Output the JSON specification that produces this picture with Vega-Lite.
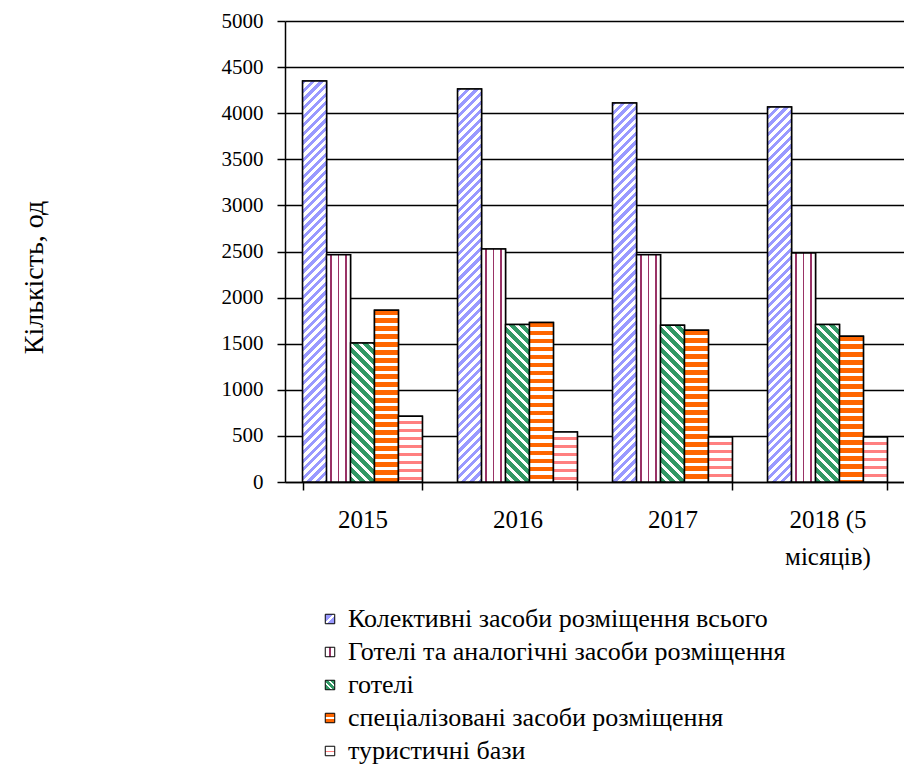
{
  "$schema": "https://vega.github.io/schema/vega-lite/v6.json",
  "autosize": {"type": "none"},
  "padding": {"left": 285, "top": 21, "right": 0, "bottom": 294},
  "width": 620,
  "height": 461,
  "background": "white",
  "config": {
    "font": "Liberation Serif",
    "view": {"stroke": null},
    "axis": {"labelFont": "Liberation Serif", "titleFont": "Liberation Serif"},
    "legend": {"labelFont": "Liberation Serif"}
  },
  "params": [
    {"name": "blueStops", "value": [
      {"offset":0,"color":"#99f"},
      {"offset":0.01,"color":"#99f"},{"offset":0.01,"color":"#fff"},{"offset":0.02,"color":"#fff"},{"offset":0.02,"color":"#99f"},
      {"offset":0.03,"color":"#99f"},{"offset":0.03,"color":"#fff"},{"offset":0.04,"color":"#fff"},{"offset":0.04,"color":"#99f"},
      {"offset":0.05,"color":"#99f"},{"offset":0.05,"color":"#fff"},{"offset":0.06,"color":"#fff"},{"offset":0.06,"color":"#99f"},
      {"offset":0.07,"color":"#99f"},{"offset":0.07,"color":"#fff"},{"offset":0.08,"color":"#fff"},{"offset":0.08,"color":"#99f"},
      {"offset":0.09,"color":"#99f"},{"offset":0.09,"color":"#fff"},{"offset":0.10,"color":"#fff"},{"offset":0.10,"color":"#99f"},
      {"offset":0.11,"color":"#99f"},{"offset":0.11,"color":"#fff"},{"offset":0.12,"color":"#fff"},{"offset":0.12,"color":"#99f"},
      {"offset":0.13,"color":"#99f"},{"offset":0.13,"color":"#fff"},{"offset":0.14,"color":"#fff"},{"offset":0.14,"color":"#99f"},
      {"offset":0.15,"color":"#99f"},{"offset":0.15,"color":"#fff"},{"offset":0.16,"color":"#fff"},{"offset":0.16,"color":"#99f"},
      {"offset":0.17,"color":"#99f"},{"offset":0.17,"color":"#fff"},{"offset":0.18,"color":"#fff"},{"offset":0.18,"color":"#99f"},
      {"offset":0.19,"color":"#99f"},{"offset":0.19,"color":"#fff"},{"offset":0.20,"color":"#fff"},{"offset":0.20,"color":"#99f"},
      {"offset":0.21,"color":"#99f"},{"offset":0.21,"color":"#fff"},{"offset":0.22,"color":"#fff"},{"offset":0.22,"color":"#99f"},
      {"offset":0.23,"color":"#99f"},{"offset":0.23,"color":"#fff"},{"offset":0.24,"color":"#fff"},{"offset":0.24,"color":"#99f"},
      {"offset":0.25,"color":"#99f"},{"offset":0.25,"color":"#fff"},{"offset":0.26,"color":"#fff"},{"offset":0.26,"color":"#99f"},
      {"offset":0.27,"color":"#99f"},{"offset":0.27,"color":"#fff"},{"offset":0.28,"color":"#fff"},{"offset":0.28,"color":"#99f"},
      {"offset":0.29,"color":"#99f"},{"offset":0.29,"color":"#fff"},{"offset":0.30,"color":"#fff"},{"offset":0.30,"color":"#99f"},
      {"offset":0.31,"color":"#99f"},{"offset":0.31,"color":"#fff"},{"offset":0.32,"color":"#fff"},{"offset":0.32,"color":"#99f"},
      {"offset":0.33,"color":"#99f"},{"offset":0.33,"color":"#fff"},{"offset":0.34,"color":"#fff"},{"offset":0.34,"color":"#99f"},
      {"offset":0.35,"color":"#99f"},{"offset":0.35,"color":"#fff"},{"offset":0.36,"color":"#fff"},{"offset":0.36,"color":"#99f"},
      {"offset":0.37,"color":"#99f"},{"offset":0.37,"color":"#fff"},{"offset":0.38,"color":"#fff"},{"offset":0.38,"color":"#99f"},
      {"offset":0.39,"color":"#99f"},{"offset":0.39,"color":"#fff"},{"offset":0.40,"color":"#fff"},{"offset":0.40,"color":"#99f"},
      {"offset":0.41,"color":"#99f"},{"offset":0.41,"color":"#fff"},{"offset":0.42,"color":"#fff"},{"offset":0.42,"color":"#99f"},
      {"offset":0.43,"color":"#99f"},{"offset":0.43,"color":"#fff"},{"offset":0.44,"color":"#fff"},{"offset":0.44,"color":"#99f"},
      {"offset":0.45,"color":"#99f"},{"offset":0.45,"color":"#fff"},{"offset":0.46,"color":"#fff"},{"offset":0.46,"color":"#99f"},
      {"offset":0.47,"color":"#99f"},{"offset":0.47,"color":"#fff"},{"offset":0.48,"color":"#fff"},{"offset":0.48,"color":"#99f"},
      {"offset":0.49,"color":"#99f"},{"offset":0.49,"color":"#fff"},{"offset":0.50,"color":"#fff"},{"offset":0.50,"color":"#99f"},
      {"offset":0.51,"color":"#99f"},{"offset":0.51,"color":"#fff"},{"offset":0.52,"color":"#fff"},{"offset":0.52,"color":"#99f"},
      {"offset":0.53,"color":"#99f"},{"offset":0.53,"color":"#fff"},{"offset":0.54,"color":"#fff"},{"offset":0.54,"color":"#99f"},
      {"offset":0.55,"color":"#99f"},{"offset":0.55,"color":"#fff"},{"offset":0.56,"color":"#fff"},{"offset":0.56,"color":"#99f"},
      {"offset":0.57,"color":"#99f"},{"offset":0.57,"color":"#fff"},{"offset":0.58,"color":"#fff"},{"offset":0.58,"color":"#99f"},
      {"offset":0.59,"color":"#99f"},{"offset":0.59,"color":"#fff"},{"offset":0.60,"color":"#fff"},{"offset":0.60,"color":"#99f"},
      {"offset":0.61,"color":"#99f"},{"offset":0.61,"color":"#fff"},{"offset":0.62,"color":"#fff"},{"offset":0.62,"color":"#99f"},
      {"offset":0.63,"color":"#99f"},{"offset":0.63,"color":"#fff"},{"offset":0.64,"color":"#fff"},{"offset":0.64,"color":"#99f"},
      {"offset":0.65,"color":"#99f"},{"offset":0.65,"color":"#fff"},{"offset":0.66,"color":"#fff"},{"offset":0.66,"color":"#99f"},
      {"offset":0.67,"color":"#99f"},{"offset":0.67,"color":"#fff"},{"offset":0.68,"color":"#fff"},{"offset":0.68,"color":"#99f"},
      {"offset":0.69,"color":"#99f"},{"offset":0.69,"color":"#fff"},{"offset":0.70,"color":"#fff"},{"offset":0.70,"color":"#99f"},
      {"offset":0.71,"color":"#99f"},{"offset":0.71,"color":"#fff"},{"offset":0.72,"color":"#fff"},{"offset":0.72,"color":"#99f"},
      {"offset":0.73,"color":"#99f"},{"offset":0.73,"color":"#fff"},{"offset":0.74,"color":"#fff"},{"offset":0.74,"color":"#99f"},
      {"offset":0.75,"color":"#99f"},{"offset":0.75,"color":"#fff"},{"offset":0.76,"color":"#fff"},{"offset":0.76,"color":"#99f"},
      {"offset":0.77,"color":"#99f"},{"offset":0.77,"color":"#fff"},{"offset":0.78,"color":"#fff"},{"offset":0.78,"color":"#99f"},
      {"offset":0.79,"color":"#99f"},{"offset":0.79,"color":"#fff"},{"offset":0.80,"color":"#fff"},{"offset":0.80,"color":"#99f"},
      {"offset":0.81,"color":"#99f"},{"offset":0.81,"color":"#fff"},{"offset":0.82,"color":"#fff"},{"offset":0.82,"color":"#99f"},
      {"offset":0.83,"color":"#99f"},{"offset":0.83,"color":"#fff"},{"offset":0.84,"color":"#fff"},{"offset":0.84,"color":"#99f"},
      {"offset":0.85,"color":"#99f"},{"offset":0.85,"color":"#fff"},{"offset":0.86,"color":"#fff"},{"offset":0.86,"color":"#99f"},
      {"offset":0.87,"color":"#99f"},{"offset":0.87,"color":"#fff"},{"offset":0.88,"color":"#fff"},{"offset":0.88,"color":"#99f"},
      {"offset":0.89,"color":"#99f"},{"offset":0.89,"color":"#fff"},{"offset":0.90,"color":"#fff"},{"offset":0.90,"color":"#99f"},
      {"offset":0.91,"color":"#99f"},{"offset":0.91,"color":"#fff"},{"offset":0.92,"color":"#fff"},{"offset":0.92,"color":"#99f"},
      {"offset":0.93,"color":"#99f"},{"offset":0.93,"color":"#fff"},{"offset":0.94,"color":"#fff"},{"offset":0.94,"color":"#99f"},
      {"offset":0.95,"color":"#99f"},{"offset":0.95,"color":"#fff"},{"offset":0.96,"color":"#fff"},{"offset":0.96,"color":"#99f"},
      {"offset":0.97,"color":"#99f"},{"offset":0.97,"color":"#fff"},{"offset":0.98,"color":"#fff"},{"offset":0.98,"color":"#99f"},
      {"offset":0.99,"color":"#99f"},{"offset":0.99,"color":"#fff"},{"offset":1,"color":"#fff"}
    ]},
    {"name": "purpleStops", "value": [
      {"offset":0,"color":"#fff"},{"offset":0.15,"color":"#fff"},{"offset":0.15,"color":"#936"},{"offset":0.23,"color":"#936"},
      {"offset":0.23,"color":"#fff"},{"offset":0.46,"color":"#fff"},{"offset":0.46,"color":"#936"},{"offset":0.54,"color":"#936"},
      {"offset":0.54,"color":"#fff"},{"offset":0.77,"color":"#fff"},{"offset":0.77,"color":"#936"},{"offset":0.85,"color":"#936"},
      {"offset":0.85,"color":"#fff"},{"offset":1,"color":"#fff"}
    ]},
    {"name": "greenStops", "value": [
      {"offset":0,"color":"#396"},{"offset":0.03,"color":"#396"},{"offset":0.03,"color":"#fff"},{"offset":0.05,"color":"#fff"},
      {"offset":0.05,"color":"#396"},{"offset":0.08,"color":"#396"},{"offset":0.08,"color":"#fff"},{"offset":0.10,"color":"#fff"},
      {"offset":0.10,"color":"#396"},{"offset":0.13,"color":"#396"},{"offset":0.13,"color":"#fff"},{"offset":0.15,"color":"#fff"},
      {"offset":0.15,"color":"#396"},{"offset":0.18,"color":"#396"},{"offset":0.18,"color":"#fff"},{"offset":0.20,"color":"#fff"},
      {"offset":0.20,"color":"#396"},{"offset":0.23,"color":"#396"},{"offset":0.23,"color":"#fff"},{"offset":0.25,"color":"#fff"},
      {"offset":0.25,"color":"#396"},{"offset":0.28,"color":"#396"},{"offset":0.28,"color":"#fff"},{"offset":0.30,"color":"#fff"},
      {"offset":0.30,"color":"#396"},{"offset":0.33,"color":"#396"},{"offset":0.33,"color":"#fff"},{"offset":0.35,"color":"#fff"},
      {"offset":0.35,"color":"#396"},{"offset":0.38,"color":"#396"},{"offset":0.38,"color":"#fff"},{"offset":0.40,"color":"#fff"},
      {"offset":0.40,"color":"#396"},{"offset":0.43,"color":"#396"},{"offset":0.43,"color":"#fff"},{"offset":0.45,"color":"#fff"},
      {"offset":0.45,"color":"#396"},{"offset":0.48,"color":"#396"},{"offset":0.48,"color":"#fff"},{"offset":0.50,"color":"#fff"},
      {"offset":0.50,"color":"#396"},{"offset":0.53,"color":"#396"},{"offset":0.53,"color":"#fff"},{"offset":0.55,"color":"#fff"},
      {"offset":0.55,"color":"#396"},{"offset":0.58,"color":"#396"},{"offset":0.58,"color":"#fff"},{"offset":0.60,"color":"#fff"},
      {"offset":0.60,"color":"#396"},{"offset":0.63,"color":"#396"},{"offset":0.63,"color":"#fff"},{"offset":0.65,"color":"#fff"},
      {"offset":0.65,"color":"#396"},{"offset":0.68,"color":"#396"},{"offset":0.68,"color":"#fff"},{"offset":0.70,"color":"#fff"},
      {"offset":0.70,"color":"#396"},{"offset":0.73,"color":"#396"},{"offset":0.73,"color":"#fff"},{"offset":0.75,"color":"#fff"},
      {"offset":0.75,"color":"#396"},{"offset":0.78,"color":"#396"},{"offset":0.78,"color":"#fff"},{"offset":0.80,"color":"#fff"},
      {"offset":0.80,"color":"#396"},{"offset":0.83,"color":"#396"},{"offset":0.83,"color":"#fff"},{"offset":0.85,"color":"#fff"},
      {"offset":0.85,"color":"#396"},{"offset":0.88,"color":"#396"},{"offset":0.88,"color":"#fff"},{"offset":0.90,"color":"#fff"},
      {"offset":0.90,"color":"#396"},{"offset":0.93,"color":"#396"},{"offset":0.93,"color":"#fff"},{"offset":0.95,"color":"#fff"},
      {"offset":0.95,"color":"#396"},{"offset":0.98,"color":"#396"},{"offset":0.98,"color":"#fff"},{"offset":1,"color":"#fff"}
    ]},
    {"name": "orangeStops", "value": [
      {"offset":0,"color":"#f60"},{"offset":0.024,"color":"#f60"},{"offset":0.024,"color":"#fff"},{"offset":0.04,"color":"#fff"},
      {"offset":0.04,"color":"#f60"},{"offset":0.064,"color":"#f60"},{"offset":0.064,"color":"#fff"},{"offset":0.08,"color":"#fff"},
      {"offset":0.08,"color":"#f60"},{"offset":0.104,"color":"#f60"},{"offset":0.104,"color":"#fff"},{"offset":0.12,"color":"#fff"},
      {"offset":0.12,"color":"#f60"},{"offset":0.144,"color":"#f60"},{"offset":0.144,"color":"#fff"},{"offset":0.16,"color":"#fff"},
      {"offset":0.16,"color":"#f60"},{"offset":0.184,"color":"#f60"},{"offset":0.184,"color":"#fff"},{"offset":0.20,"color":"#fff"},
      {"offset":0.20,"color":"#f60"},{"offset":0.224,"color":"#f60"},{"offset":0.224,"color":"#fff"},{"offset":0.24,"color":"#fff"},
      {"offset":0.24,"color":"#f60"},{"offset":0.264,"color":"#f60"},{"offset":0.264,"color":"#fff"},{"offset":0.28,"color":"#fff"},
      {"offset":0.28,"color":"#f60"},{"offset":0.304,"color":"#f60"},{"offset":0.304,"color":"#fff"},{"offset":0.32,"color":"#fff"},
      {"offset":0.32,"color":"#f60"},{"offset":0.344,"color":"#f60"},{"offset":0.344,"color":"#fff"},{"offset":0.36,"color":"#fff"},
      {"offset":0.36,"color":"#f60"},{"offset":0.384,"color":"#f60"},{"offset":0.384,"color":"#fff"},{"offset":0.40,"color":"#fff"},
      {"offset":0.40,"color":"#f60"},{"offset":0.424,"color":"#f60"},{"offset":0.424,"color":"#fff"},{"offset":0.44,"color":"#fff"},
      {"offset":0.44,"color":"#f60"},{"offset":0.464,"color":"#f60"},{"offset":0.464,"color":"#fff"},{"offset":0.48,"color":"#fff"},
      {"offset":0.48,"color":"#f60"},{"offset":0.504,"color":"#f60"},{"offset":0.504,"color":"#fff"},{"offset":0.52,"color":"#fff"},
      {"offset":0.52,"color":"#f60"},{"offset":0.544,"color":"#f60"},{"offset":0.544,"color":"#fff"},{"offset":0.56,"color":"#fff"},
      {"offset":0.56,"color":"#f60"},{"offset":0.584,"color":"#f60"},{"offset":0.584,"color":"#fff"},{"offset":0.60,"color":"#fff"},
      {"offset":0.60,"color":"#f60"},{"offset":0.624,"color":"#f60"},{"offset":0.624,"color":"#fff"},{"offset":0.64,"color":"#fff"},
      {"offset":0.64,"color":"#f60"},{"offset":0.664,"color":"#f60"},{"offset":0.664,"color":"#fff"},{"offset":0.68,"color":"#fff"},
      {"offset":0.68,"color":"#f60"},{"offset":0.704,"color":"#f60"},{"offset":0.704,"color":"#fff"},{"offset":0.72,"color":"#fff"},
      {"offset":0.72,"color":"#f60"},{"offset":0.744,"color":"#f60"},{"offset":0.744,"color":"#fff"},{"offset":0.76,"color":"#fff"},
      {"offset":0.76,"color":"#f60"},{"offset":0.784,"color":"#f60"},{"offset":0.784,"color":"#fff"},{"offset":0.80,"color":"#fff"},
      {"offset":0.80,"color":"#f60"},{"offset":0.824,"color":"#f60"},{"offset":0.824,"color":"#fff"},{"offset":0.84,"color":"#fff"},
      {"offset":0.84,"color":"#f60"},{"offset":0.864,"color":"#f60"},{"offset":0.864,"color":"#fff"},{"offset":0.88,"color":"#fff"},
      {"offset":0.88,"color":"#f60"},{"offset":0.904,"color":"#f60"},{"offset":0.904,"color":"#fff"},{"offset":0.92,"color":"#fff"},
      {"offset":0.92,"color":"#f60"},{"offset":0.944,"color":"#f60"},{"offset":0.944,"color":"#fff"},{"offset":0.96,"color":"#fff"},
      {"offset":0.96,"color":"#f60"},{"offset":0.984,"color":"#f60"},{"offset":0.984,"color":"#fff"},{"offset":1,"color":"#fff"}
    ]},
    {"name": "pinkStops", "value": [
      {"offset":0,"color":"#fff"},{"offset":0.06,"color":"#fff"},{"offset":0.06,"color":"#ff8080"},{"offset":0.10,"color":"#ff8080"},
      {"offset":0.10,"color":"#fff"},{"offset":0.16,"color":"#fff"},{"offset":0.16,"color":"#ff8080"},{"offset":0.20,"color":"#ff8080"},
      {"offset":0.20,"color":"#fff"},{"offset":0.26,"color":"#fff"},{"offset":0.26,"color":"#ff8080"},{"offset":0.30,"color":"#ff8080"},
      {"offset":0.30,"color":"#fff"},{"offset":0.36,"color":"#fff"},{"offset":0.36,"color":"#ff8080"},{"offset":0.40,"color":"#ff8080"},
      {"offset":0.40,"color":"#fff"},{"offset":0.46,"color":"#fff"},{"offset":0.46,"color":"#ff8080"},{"offset":0.50,"color":"#ff8080"},
      {"offset":0.50,"color":"#fff"},{"offset":0.56,"color":"#fff"},{"offset":0.56,"color":"#ff8080"},{"offset":0.60,"color":"#ff8080"},
      {"offset":0.60,"color":"#fff"},{"offset":0.66,"color":"#fff"},{"offset":0.66,"color":"#ff8080"},{"offset":0.70,"color":"#ff8080"},
      {"offset":0.70,"color":"#fff"},{"offset":0.76,"color":"#fff"},{"offset":0.76,"color":"#ff8080"},{"offset":0.80,"color":"#ff8080"},
      {"offset":0.80,"color":"#fff"},{"offset":0.86,"color":"#fff"},{"offset":0.86,"color":"#ff8080"},{"offset":0.90,"color":"#ff8080"},
      {"offset":0.90,"color":"#fff"},{"offset":0.96,"color":"#fff"},{"offset":0.96,"color":"#ff8080"},{"offset":1,"color":"#ff8080"}
    ]}
  ],
  "data": {"values": [
    {"year": "2015", "series": "Колективні засоби розміщення всього", "value": 4349},
    {"year": "2015", "series": "Готелі та аналогічні засоби розміщення", "value": 2466},
    {"year": "2015", "series": "готелі", "value": 1508},
    {"year": "2015", "series": "спеціалізовані засоби розміщення", "value": 1862},
    {"year": "2015", "series": "туристичні бази", "value": 712},
    {"year": "2016", "series": "Колективні засоби розміщення всього", "value": 4262},
    {"year": "2016", "series": "Готелі та аналогічні засоби розміщення", "value": 2527},
    {"year": "2016", "series": "готелі", "value": 1707},
    {"year": "2016", "series": "спеціалізовані засоби розміщення", "value": 1729},
    {"year": "2016", "series": "туристичні бази", "value": 542},
    {"year": "2017", "series": "Колективні засоби розміщення всього", "value": 4111},
    {"year": "2017", "series": "Готелі та аналогічні засоби розміщення", "value": 2466},
    {"year": "2017", "series": "готелі", "value": 1700},
    {"year": "2017", "series": "спеціалізовані засоби розміщення", "value": 1645},
    {"year": "2017", "series": "туристичні бази", "value": 488},
    {"year": "2018 (5 місяців)", "series": "Колективні засоби розміщення всього", "value": 4067},
    {"year": "2018 (5 місяців)", "series": "Готелі та аналогічні засоби розміщення", "value": 2484},
    {"year": "2018 (5 місяців)", "series": "готелі", "value": 1707},
    {"year": "2018 (5 місяців)", "series": "спеціалізовані засоби розміщення", "value": 1580},
    {"year": "2018 (5 місяців)", "series": "туристичні бази", "value": 488}
  ]},
  "encoding": {
    "x": {
      "field": "year", "type": "nominal", "sort": null,
      "scale": {"paddingInner": 0.227, "paddingOuter": 0.1135},
      "axis": {
        "title": null, "labelAngle": 0, "labelFontSize": 25, "labelColor": "black",
        "labelPadding": 17, "labelLineHeight": 37,
        "labelExpr": "datum.label == '2018 (5 місяців)' ? ['2018 (5', 'місяців)'] : datum.label",
        "tickBand": "extent", "tickSize": 8, "tickColor": "black", "tickWidth": 1.5,
        "domainColor": "black", "domainWidth": 1.5
      }
    },
    "xOffset": {"field": "series", "type": "nominal", "sort": null},
    "y": {
      "field": "value", "type": "quantitative", "stack": null,
      "scale": {"domain": [0, 5000], "nice": false},
      "axis": {
        "title": "Кількість, од", "titleFontSize": 28, "titleFontWeight": "normal", "titleColor": "black",
        "titlePadding": 173, "titleY": 256,
        "values": [0, 500, 1000, 1500, 2000, 2500, 3000, 3500, 4000, 4500, 5000], "format": "d",
        "labelFontSize": 21, "labelColor": "black", "labelPadding": 14,
        "tickSize": 8, "tickColor": "black", "tickWidth": 1.5,
        "domainColor": "black", "domainWidth": 1.5,
        "grid": true, "gridColor": "black", "gridWidth": 1.5, "gridOpacity": 1
      }
    }
  },
  "layer": [
    {
      "mark": {"type": "bar", "stroke": "black", "strokeWidth": 1.5},
      "encoding": {
        "color": {
          "field": "series", "type": "nominal", "sort": null,
          "scale": {
            "domain": ["Колективні засоби розміщення всього", "Готелі та аналогічні засоби розміщення", "готелі", "спеціалізовані засоби розміщення", "туристичні бази"],
            "range": [
              {"expr": "{gradient: 'linear', x1: 0, y1: 0, x2: 1, y2: 1, stops: [{offset: 0, color: '#99f'}, {offset: 0.42, color: '#99f'}, {offset: 0.42, color: '#fff'}, {offset: 0.58, color: '#fff'}, {offset: 0.58, color: '#99f'}, {offset: 1, color: '#99f'}]}"},
              {"expr": "{gradient: 'linear', x1: 0, y1: 0, x2: 1, y2: 0, stops: [{offset: 0, color: '#fff'}, {offset: 0.4, color: '#fff'}, {offset: 0.4, color: '#936'}, {offset: 0.6, color: '#936'}, {offset: 0.6, color: '#fff'}, {offset: 1, color: '#fff'}]}"},
              {"expr": "{gradient: 'linear', x1: 0, y1: 1, x2: 1, y2: 0, stops: [{offset: 0, color: '#396'}, {offset: 0.3, color: '#396'}, {offset: 0.3, color: '#fff'}, {offset: 0.42, color: '#fff'}, {offset: 0.42, color: '#396'}, {offset: 0.62, color: '#396'}, {offset: 0.62, color: '#fff'}, {offset: 0.74, color: '#fff'}, {offset: 0.74, color: '#396'}, {offset: 1, color: '#396'}]}"},
              {"expr": "{gradient: 'linear', x1: 0, y1: 0, x2: 0, y2: 1, stops: [{offset: 0, color: '#f60'}, {offset: 0.38, color: '#f60'}, {offset: 0.38, color: '#fff'}, {offset: 0.62, color: '#fff'}, {offset: 0.62, color: '#f60'}, {offset: 1, color: '#f60'}]}"},
              {"expr": "{gradient: 'linear', x1: 0, y1: 0, x2: 0, y2: 1, stops: [{offset: 0, color: '#fff'}, {offset: 0.45, color: '#fff'}, {offset: 0.45, color: '#ff8080'}, {offset: 0.6, color: '#ff8080'}, {offset: 0.6, color: '#fff'}, {offset: 1, color: '#fff'}]}"}
            ]
          },
          "legend": {
            "title": null, "orient": "none", "legendX": 32, "legendY": 585, "direction": "vertical",
            "padding": 0, "labelFontSize": 26, "labelColor": "black", "labelLimit": 800,
            "labelOffset": 5, "rowPadding": 7,
            "symbolType": "square", "symbolSize": 90,
            "symbolStrokeColor": "black", "symbolStrokeWidth": 1
          }
        }
      }
    },
    {
      "mark": {
        "type": "bar", "stroke": "black", "strokeWidth": 1.5,
        "fill": {"expr": "datum.series === 'Колективні засоби розміщення всього' ? {gradient: 'linear', x1: 0, y1: 0, x2: 430 * bandwidth('xOffset') / (pow(scale('y', 0) - scale('y', datum.value), 2) + pow(bandwidth('xOffset'), 2)), y2: 430 * (scale('y', 0) - scale('y', datum.value)) / (pow(scale('y', 0) - scale('y', datum.value), 2) + pow(bandwidth('xOffset'), 2)), stops: blueStops} : datum.series === 'Готелі та аналогічні засоби розміщення' ? {gradient: 'linear', x1: 0, y1: 0, x2: 1, y2: 0, stops: purpleStops} : datum.series === 'готелі' ? {gradient: 'linear', x1: 0, y1: 1, x2: 200 * bandwidth('xOffset') / (pow(scale('y', 0) - scale('y', datum.value), 2) + pow(bandwidth('xOffset'), 2)), y2: 1 - 200 * (scale('y', 0) - scale('y', datum.value)) / (pow(scale('y', 0) - scale('y', datum.value), 2) + pow(bandwidth('xOffset'), 2)), stops: greenStops} : datum.series === 'спеціалізовані засоби розміщення' ? {gradient: 'linear', x1: 0, y1: 0, x2: 0, y2: 200 / (scale('y', 0) - scale('y', datum.value)), stops: orangeStops} : {gradient: 'linear', x1: 0, y1: 0, x2: 0, y2: 80 / (scale('y', 0) - scale('y', datum.value)), stops: pinkStops}"}
      }
    }
  ]
}
